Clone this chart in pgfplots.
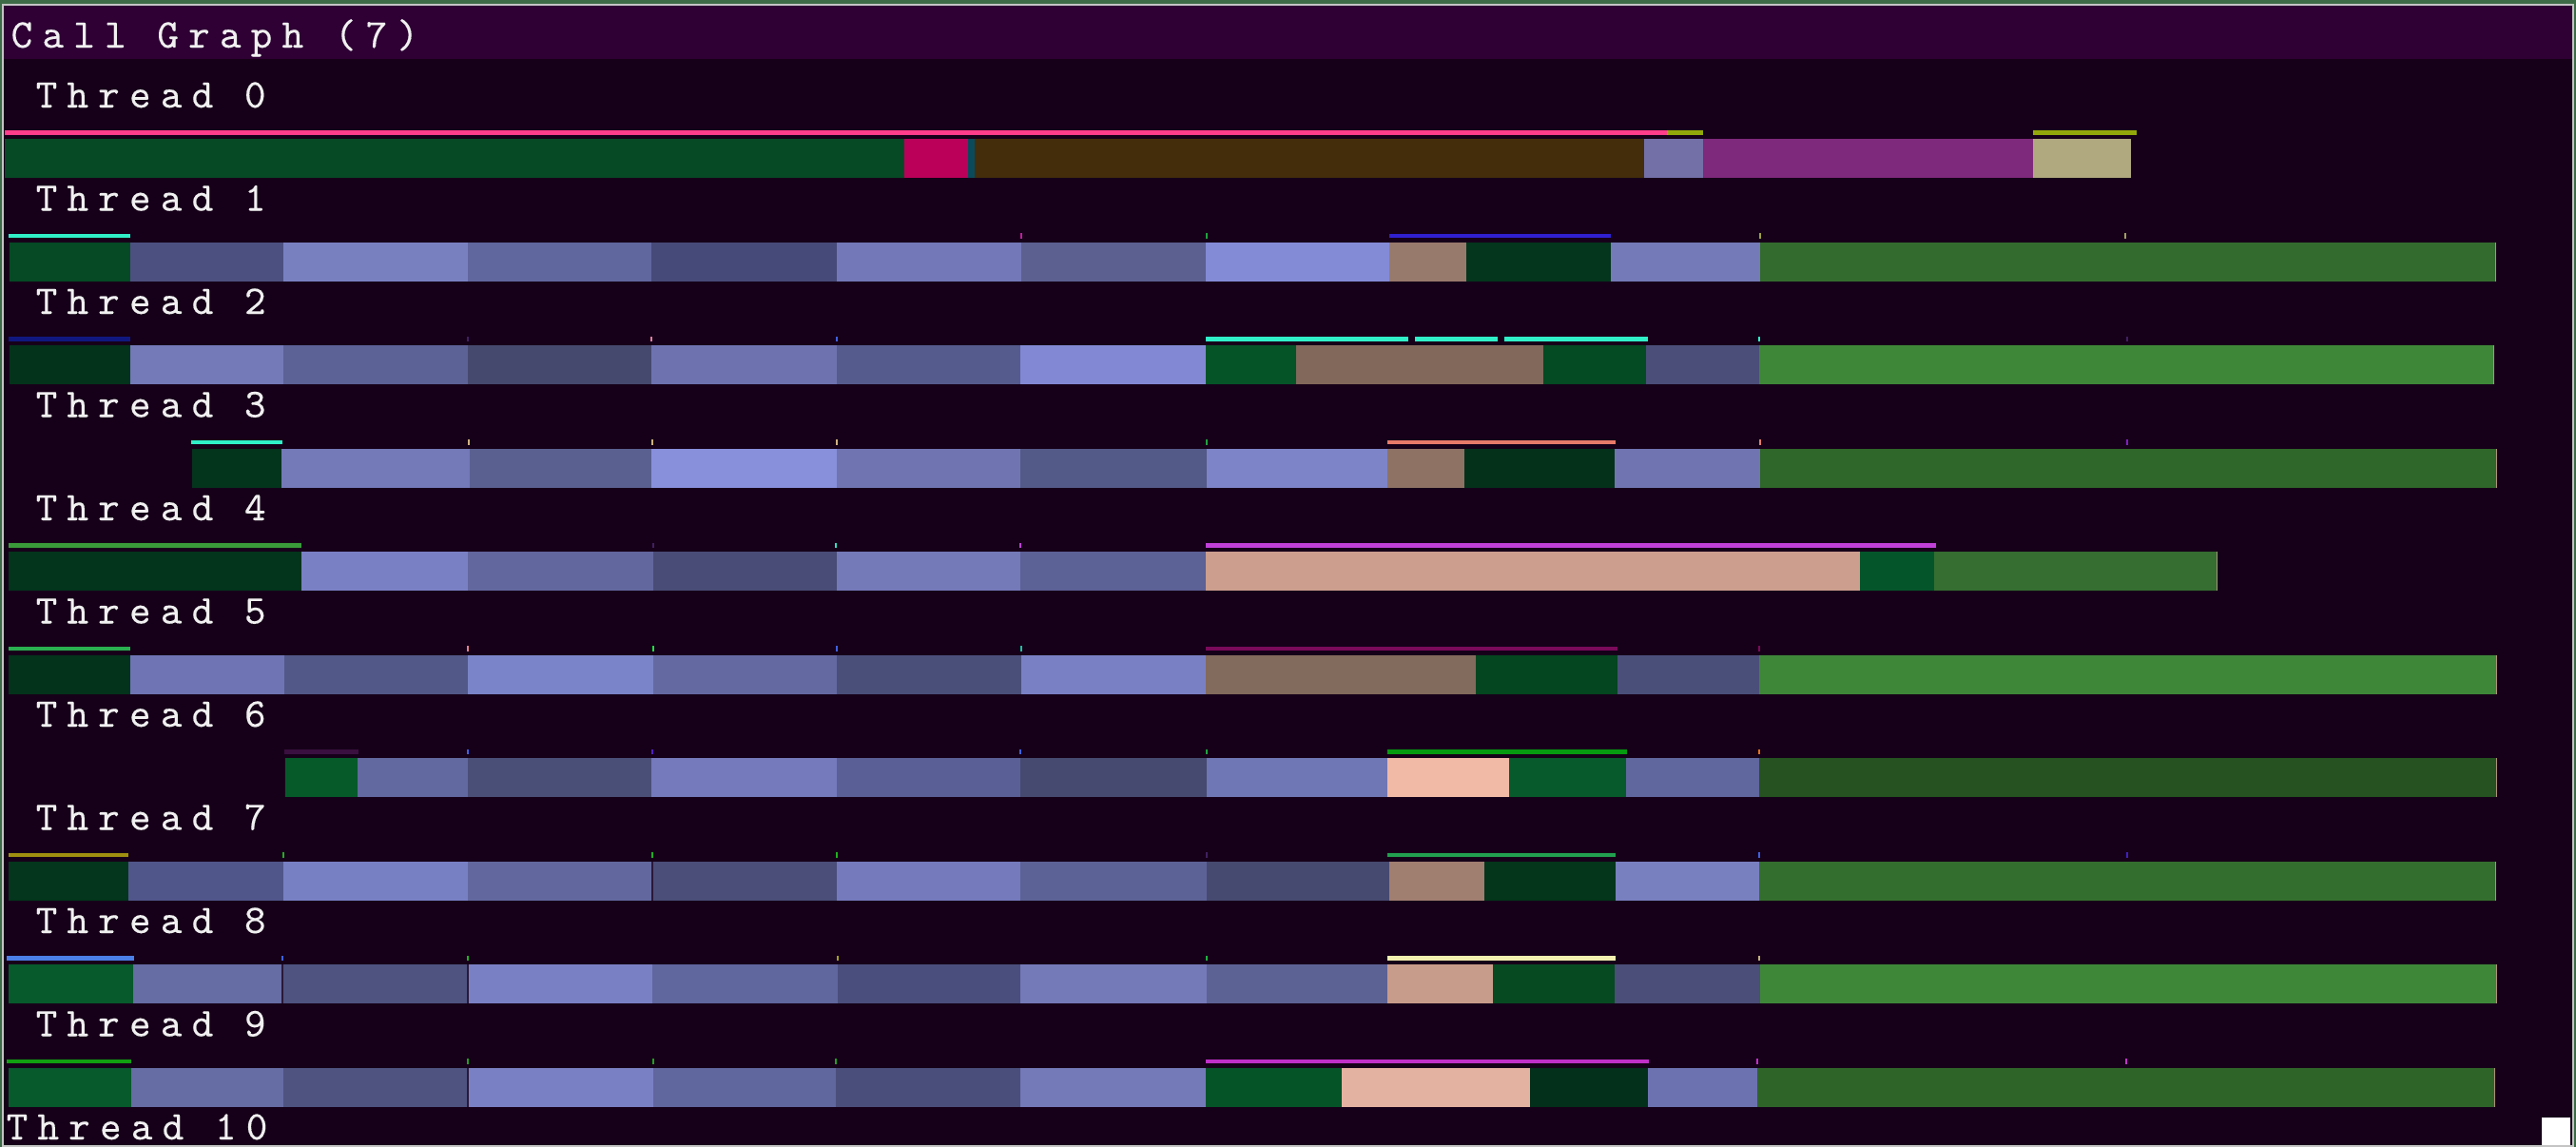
\documentclass[border=0pt]{standalone}
\usepackage{fontspec}
\usepackage{pgfplots}
\pgfplotsset{compat=1.18}
\newfontfamily\labfont{lmmono10-regular.otf}[LetterSpace=24, FakeBold=0.25]
\definecolor{outer}{HTML}{3D6B47}
\definecolor{frame}{HTML}{C4C4C4}
\definecolor{titlebg}{HTML}{2E0034}
\definecolor{bg}{HTML}{160019}
\definecolor{txt}{HTML}{F0F0F0}
\newcommand\lab{\labfont\fontsize{12.2pt}{14pt}\selectfont}
% bar segment: x1 x2 row colour
\newcommand\seg[4]{%
  \definecolor{h#4}{HTML}{#4}%
  \pgfmathsetmacro\yA{146+108.5*#3}\pgfmathsetmacro\yB{187+108.5*#3}%
  \edef\tmp{\noexpand\addplot[draw=none,fill=h#4,forget plot] coordinates {(#1,\yA) (#2,\yA) (#2,\yB) (#1,\yB)} -- cycle;}\tmp}
% parent line: x1 x2 row colour
\newcommand\pline[4]{%
  \definecolor{h#4}{HTML}{#4}%
  \pgfmathsetmacro\yA{137+108.5*#3}\pgfmathsetmacro\yB{141.5+108.5*#3}%
  \edef\tmp{\noexpand\addplot[draw=none,fill=h#4,forget plot] coordinates {(#1,\yA) (#2,\yA) (#2,\yB) (#1,\yB)} -- cycle;}\tmp}
% tick: x row colour
\newcommand\ptick[3]{%
  \definecolor{h#3}{HTML}{#3}%
  \pgfmathsetmacro\yA{136.5+108.5*#2}\pgfmathsetmacro\yB{142+108.5*#2}%
  \pgfmathsetmacro\xA{#1-1}\pgfmathsetmacro\xB{#1+1}%
  \edef\tmp{\noexpand\addplot[draw=none,fill=h#3,forget plot] coordinates {(\xA,\yA) (\xB,\yA) (\xB,\yB) (\xA,\yB)} -- cycle;}\tmp}
\begin{document}
\begin{tikzpicture}
\begin{axis}[scale only axis, width=270.9mm, height=120.6mm,
  xmin=0, xmax=2709, ymin=0, ymax=1206, y dir=reverse,
  hide axis, clip=false]
% window
\addplot[draw=none,fill=outer] coordinates {(0,0) (2709,0) (2709,1206) (0,1206)} -- cycle;
\addplot[draw=none,fill=frame] coordinates {(2,4) (2707,4) (2707,1205.5) (2,1205.5)} -- cycle;
\addplot[draw=none,fill=titlebg] coordinates {(4,6) (2705,6) (2705,62) (4,62)} -- cycle;
\addplot[draw=none,fill=bg] coordinates {(4,62) (2705,62) (2705,1203.5) (4,1203.5)} -- cycle;
\addplot[draw=none,fill=white] coordinates {(2673,1175) (2703,1175) (2703,1203.5) (2673,1203.5)} -- cycle;
% ---- Thread 0
\seg{5}{951}{0}{054A25}\seg{951}{1018}{0}{BB0059}\seg{1018}{1025}{0}{0B4A5A}
\seg{1025}{1729}{0}{432D0B}\seg{1729}{1791}{0}{7370A8}\seg{1791}{2138}{0}{7F297C}
\seg{2138}{2241}{0}{B0A87E}
\pline{5}{1753}{0}{FF3D8A}\pline{1753}{1791}{0}{92A80A}\pline{2138}{2247}{0}{92A80A}
% ---- Thread 1
\seg{10}{137}{1}{054A25}\seg{137}{298}{1}{4C5080}\seg{298}{492}{1}{7880C0}
\seg{492}{685}{1}{60669E}\seg{685}{880}{1}{464A78}\seg{880}{1074}{1}{7278B8}
\seg{1074}{1268}{1}{5B6090}\seg{1268}{1461}{1}{838BD6}\seg{1461}{1542}{1}{987A6C}
\seg{1542}{1694}{1}{03361D}\seg{1694}{1851}{1}{747AB8}\seg{1851}{2625}{1}{336B2E}
\seg{2623.5}{2625}{1}{B09080}
\pline{9}{137}{1}{30F0C8}\pline{1461}{1694}{1}{3020D0}
\ptick{1074}{1}{C020A0}\ptick{1269}{1}{20A040}\ptick{1851}{1}{A0A040}\ptick{2235}{1}{A0A060}
% ---- Thread 2
\seg{10}{137}{2}{03331B}\seg{137}{298}{2}{7479B8}\seg{298}{492}{2}{5C6196}
\seg{492}{685}{2}{46496E}\seg{685}{880}{2}{6E73B0}\seg{880}{1073}{2}{565B8E}
\seg{1073}{1268}{2}{8288D4}\seg{1268}{1363}{2}{055428}\seg{1363}{1623}{2}{81685A}
\seg{1623}{1731}{2}{044A22}\seg{1731}{1850}{2}{4A4E78}\seg{1850}{2623}{2}{3E8739}
\seg{2621.5}{2623}{2}{B09080}
\pline{9}{137}{2}{101880}\pline{1268}{1481}{2}{30F0C8}\pline{1488}{1575}{2}{30F0C8}\pline{1582}{1733}{2}{30F0C8}
\ptick{492}{2}{402060}\ptick{685}{2}{E080A0}\ptick{880}{2}{4060E0}\ptick{1850}{2}{30F0C8}\ptick{2237}{2}{402060}
% ---- Thread 3
\seg{202}{296}{3}{03341C}\seg{296}{494}{3}{7479B8}\seg{494}{685}{3}{5A6090}
\seg{685}{880}{3}{8890DC}\seg{880}{1073}{3}{7075B2}\seg{1073}{1269}{3}{545A88}
\seg{1269}{1459}{3}{7D84C8}\seg{1459}{1540}{3}{8E7264}\seg{1540}{1698}{3}{03311A}
\seg{1698}{1851}{3}{7075B2}\seg{1851}{2626}{3}{2F6629}
\seg{2624.5}{2626}{3}{B09080}
\pline{201}{297}{3}{30F0C8}\pline{1459}{1699}{3}{E87A6A}
\ptick{493}{3}{D0B080}\ptick{686}{3}{D0B080}\ptick{880}{3}{D0B080}\ptick{1269}{3}{20A040}\ptick{1851}{3}{E87A6A}\ptick{2237}{3}{8020C0}
% ---- Thread 4
\seg{9}{317}{4}{03341C}\seg{317}{492}{4}{7A80C4}\seg{492}{687}{4}{62679E}
\seg{687}{880}{4}{484C76}\seg{880}{1073}{4}{7479B8}\seg{1073}{1268}{4}{5C6196}
\seg{1268}{1956}{4}{CB9E8E}\seg{1956}{2034}{4}{05552B}\seg{2034}{2332}{4}{356E30}
\seg{2330.5}{2332}{4}{B09080}
\pline{9}{317}{4}{3A9A3A}\pline{1268}{2036}{4}{C040D8}
\ptick{687}{4}{402060}\ptick{879}{4}{30E0C0}\ptick{1073}{4}{C040D8}
% ---- Thread 5
\seg{9}{137}{5}{03331B}\seg{137}{299}{5}{6E74B4}\seg{299}{492}{5}{525888}
\seg{492}{687}{5}{7A84C8}\seg{687}{880}{5}{6469A2}\seg{880}{1074}{5}{4A4F7A}
\seg{1074}{1268}{5}{7A80C4}\seg{1268}{1552}{5}{826A5C}\seg{1552}{1701}{5}{04461F}
\seg{1701}{1850}{5}{4A4F7A}\seg{1850}{2626}{5}{3E8739}
\seg{2624.5}{2626}{5}{B09080}
\pline{9}{137}{5}{2AB050}\pline{1268}{1701}{5}{7A0A5A}
\ptick{492}{5}{E08090}\ptick{687}{5}{20E040}\ptick{880}{5}{4060E0}\ptick{1074}{5}{20C0A0}\ptick{1850}{5}{7A0A5A}
% ---- Thread 6
\seg{300}{376}{6}{065A2A}\seg{376}{492}{6}{6268A0}\seg{492}{685}{6}{4A4F78}
\seg{685}{880}{6}{747ABC}\seg{880}{1073}{6}{5A6096}\seg{1073}{1269}{6}{464A70}
\seg{1269}{1459}{6}{7077B5}\seg{1459}{1587}{6}{F0BAA6}\seg{1587}{1710}{6}{075A2B}
\seg{1710}{1850}{6}{60669E}\seg{1850}{2626}{6}{255220}
\seg{2624.5}{2626}{6}{B09080}
\pline{299}{377}{6}{3A1040}\pline{1459}{1711}{6}{069A10}
\ptick{492}{6}{4060E0}\ptick{686}{6}{5020C0}\ptick{1073}{6}{4060E0}\ptick{1269}{6}{20A040}\ptick{1850}{6}{E07020}
% ---- Thread 7
\seg{9}{135}{7}{03361C}\seg{135}{298}{7}{50568A}\seg{298}{492}{7}{7880C4}
\seg{492}{686}{7}{62689E}\seg{686}{880}{7}{4A4E78}\seg{880}{1073}{7}{747ABC}
\seg{1073}{1269}{7}{5C6296}\seg{1269}{1461}{7}{464A70}\seg{1461}{1561}{7}{A07E70}
\seg{1561}{1699}{7}{03361A}\seg{1699}{1850}{7}{7880C0}\seg{1850}{2625}{7}{346E2E}
\seg{2623.5}{2625}{7}{B09080}\seg{685}{687}{7}{2A1838}
\pline{9}{135}{7}{A09010}\pline{1459}{1699}{7}{22A050}
\ptick{298}{7}{20B020}\ptick{686}{7}{20B020}\ptick{880}{7}{20B020}\ptick{1269}{7}{402060}\ptick{1850}{7}{4060E0}\ptick{2237}{7}{4020C0}
% ---- Thread 8
\seg{9}{140}{8}{065A2C}\seg{140}{297}{8}{666CA4}\seg{297}{492}{8}{4E5380}
\seg{492}{686}{8}{7A80C4}\seg{686}{881}{8}{60669E}\seg{881}{1073}{8}{4A4E7C}
\seg{1073}{1269}{8}{7479B8}\seg{1269}{1459}{8}{5C6294}\seg{1459}{1570}{8}{C89C8A}
\seg{1570}{1698}{8}{064A22}\seg{1698}{1851}{8}{4A4E78}\seg{1851}{2626}{8}{3E8739}
\seg{2624.5}{2626}{8}{B09080}\seg{296}{298}{8}{2A1838}\seg{491}{493}{8}{2A1838}
\pline{7}{141}{8}{4A80E8}\pline{1459}{1699}{8}{F4F0B0}
\ptick{297}{8}{4060E0}\ptick{492}{8}{20B020}\ptick{881}{8}{A0A020}\ptick{1269}{8}{20B040}\ptick{1850}{8}{C0B080}
% ---- Thread 9
\seg{9}{138}{9}{065A2C}\seg{138}{298}{9}{666CA4}\seg{298}{492}{9}{4E5380}
\seg{492}{687}{9}{7A80C4}\seg{687}{879}{9}{60669E}\seg{879}{1073}{9}{4A4E7A}
\seg{1073}{1268}{9}{7479B8}\seg{1268}{1411}{9}{055428}\seg{1411}{1609}{9}{E4B2A0}
\seg{1609}{1733}{9}{03301A}\seg{1733}{1848}{9}{6C72B0}\seg{1848}{2624}{9}{2F6429}
\seg{2622.5}{2624}{9}{B09080}\seg{491}{493}{9}{2A1838}
\pline{7}{138}{9}{10A010}\pline{1268}{1734}{9}{C030C8}
\ptick{492}{9}{20A020}\ptick{687}{9}{20A020}\ptick{879}{9}{20A020}\ptick{1848}{9}{C030C8}\ptick{2236}{9}{C030C8}
% ---- texts
\node[anchor=base west,inner sep=0,text=txt,font=\lab] at (axis cs:11,50) {Call Graph (7)};
\node[anchor=base west,inner sep=0,text=txt,font=\lab] at (axis cs:37,113) {Thread 0};
\node[anchor=base west,inner sep=0,text=txt,font=\lab] at (axis cs:37,221.5) {Thread 1};
\node[anchor=base west,inner sep=0,text=txt,font=\lab] at (axis cs:37,330) {Thread 2};
\node[anchor=base west,inner sep=0,text=txt,font=\lab] at (axis cs:37,438.5) {Thread 3};
\node[anchor=base west,inner sep=0,text=txt,font=\lab] at (axis cs:37,547) {Thread 4};
\node[anchor=base west,inner sep=0,text=txt,font=\lab] at (axis cs:37,655.5) {Thread 5};
\node[anchor=base west,inner sep=0,text=txt,font=\lab] at (axis cs:37,764) {Thread 6};
\node[anchor=base west,inner sep=0,text=txt,font=\lab] at (axis cs:37,872.5) {Thread 7};
\node[anchor=base west,inner sep=0,text=txt,font=\lab] at (axis cs:37,981) {Thread 8};
\node[anchor=base west,inner sep=0,text=txt,font=\lab] at (axis cs:37,1089.5) {Thread 9};
\node[anchor=base west,inner sep=0,text=txt,font=\lab] at (axis cs:6,1198) {Thread 10};
\end{axis}
\end{tikzpicture}
\end{document}
